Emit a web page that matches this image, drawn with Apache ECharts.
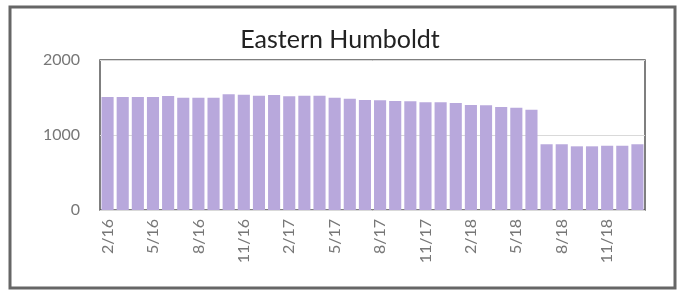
<!DOCTYPE html>
<html>
<head>
<meta charset="utf-8">
<script src="https://cdn.jsdelivr.net/npm/echarts@6/dist/echarts.min.js"></script>
<style>
  html, body { margin: 0; padding: 0; background: #fff; }
  #main { width: 680px; height: 292px; }
</style>
</head>
<body>
<div id="main"></div>
<script>
// monthly categories, 2/16 .. 1/19
var months = [
  '2/16','3/16','4/16','5/16','6/16','7/16','8/16','9/16','10/16','11/16','12/16','1/17',
  '2/17','3/17','4/17','5/17','6/17','7/17','8/17','9/17','10/17','11/17','12/17','1/18',
  '2/18','3/18','4/18','5/18','6/18','7/18','8/18','9/18','10/18','11/18','12/18','1/19'
];
var values = [
  1507, 1507, 1507, 1507, 1520, 1498, 1498, 1498, 1542, 1538, 1524, 1533,
  1516, 1524, 1524, 1498, 1484, 1467, 1462, 1453, 1449, 1436, 1436, 1427,
  1400, 1396, 1373, 1364, 1338, 876, 876, 849, 849, 858, 858, 876
];
var yTicks = [0, 1000, 2000];

var chart = echarts.init(document.getElementById('main'));
var font = 'Lato, "Open Sans", sans-serif';

var option = {
  animation: false,
  backgroundColor: '#fff',
  title: {
    text: 'Eastern Humboldt',
    left: 'center',
    top: 22,
    textStyle: { fontFamily: font, fontSize: 25, fontWeight: 'normal', color: '#222' }
  },
  graphic: [{
    type: 'rect',
    shape: { x: 10, y: 7, width: 665, height: 281 },
    style: { fill: 'none', stroke: '#666', lineWidth: 3 },
    silent: true
  }],
  grid: {
    left: 100, right: 35, top: 60, bottom: 82,
    show: true,
    borderColor: '#555',
    borderWidth: 1.5
  },
  xAxis: {
    type: 'category',
    data: months,
    axisLine: { show: false },
    axisTick: { show: false },
    axisLabel: {
      interval: 2,
      rotate: 90,
      margin: 9,
      fontFamily: font,
      fontSize: 16,
      color: '#777'
    }
  },
  yAxis: {
    type: 'value',
    min: yTicks[0],
    max: yTicks[yTicks.length - 1],
    interval: 1000,
    axisLine: { show: false },
    axisTick: { show: false },
    axisLabel: {
      margin: 20, fontFamily: font, fontSize: 16, color: '#777',
      formatter: function (v) { return String(v); }
    },
    splitLine: { lineStyle: { color: '#d9d9d9', width: 1 } }
  },
  series: [{
    type: 'bar',
    data: values,
    barCategoryGap: '20%',
    itemStyle: { color: '#b8a8dc' }
  }]
};
chart.setOption(option);
</script>
</body>
</html>
